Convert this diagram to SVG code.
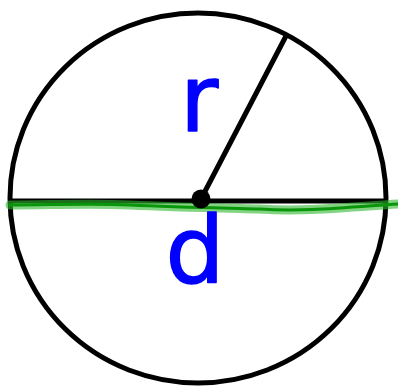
<svg xmlns="http://www.w3.org/2000/svg" width="398" height="387" viewBox="0 0 398 387">
<style>
.ink{fill:none;stroke:#000;stroke-width:5;stroke-linecap:round}
.lbl{font-family:"DejaVu Sans",sans-serif;font-size:93px;fill:#0000ff;stroke:#0000ff;stroke-width:1.5;stroke-linejoin:round;text-anchor:middle}
.green{fill:none;stroke-linecap:round}
</style>
<defs>
<path id="gpath" d="M10 205 C50 205 90 203 130 205 C170 207 220 208 260 209 C300 212 340 208 398 204"/>
</defs>
<rect width="398" height="387" fill="#fff"/>
<g id="circle">
<ellipse class="ink" cx="198" cy="198" rx="188" ry="185"/>
</g>
<g id="connectors">
<line id="diameter" class="ink" x1="12" y1="201" x2="383" y2="201"/>
<use href="#gpath" class="green" stroke="#2fb52f" stroke-opacity="0.6" stroke-width="9"/>
<use href="#gpath" class="green" stroke="#0a960a" stroke-width="3"/>
<line id="radius" class="ink" x1="201" y1="199" x2="286" y2="36"/>
</g>
<g id="center">
<circle cx="201" cy="199" r="9.5" fill="#000"/>
</g>
<g id="label-r"><text class="lbl" x="199" y="131">r</text></g>
<g id="label-d"><text class="lbl" x="195" y="283">d</text></g>
</svg>
